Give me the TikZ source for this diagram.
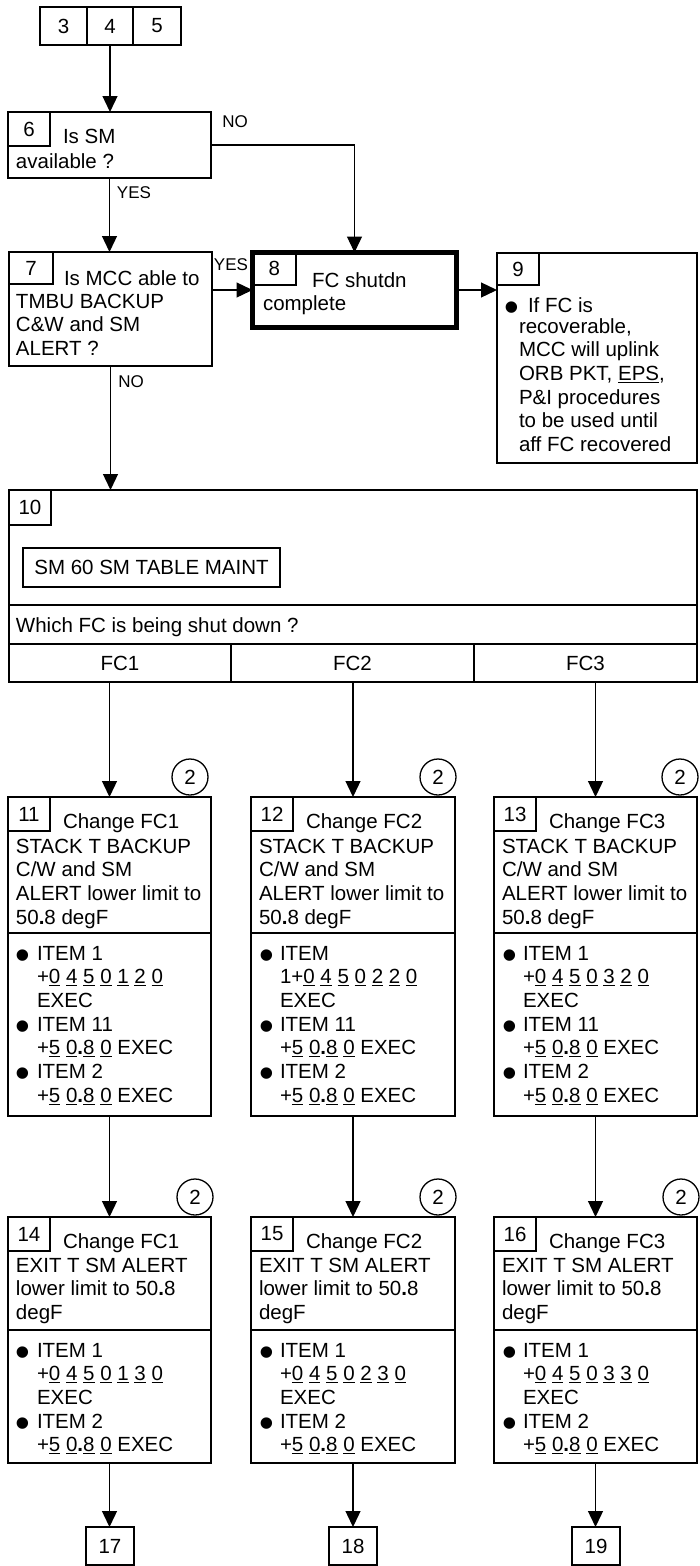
\documentclass[tikz,border=0pt]{standalone}
\usepackage{fontspec}
\setmainfont{Liberation Sans}
\usetikzlibrary{arrows.meta}
\newcommand\myu[1]{\underline{#1}}
\newcommand\dt{\textbf{.}}
\newcommand\bigbul{\smash{\raisebox{-9pt}{\fontsize{42}{42}\selectfont\textbullet}}}
\newcommand\bul{\makebox[21pt][l]{\bigbul}}
\newcommand\tl[1]{\begin{tabular}[t]{@{}l@{}}#1\end{tabular}}
\newcommand\tll[1]{\begin{tabular}[t]{@{}l@{}l@{}}#1\end{tabular}}
\newcommand\fiveo{+\myu{5} \myu{0}\dt\myu{8} \myu{0} EXEC}
\tikzset{
  box/.style={draw, line width=1.3pt, inner sep=0pt, outer sep=0pt, anchor=north west, font=\fontsize{20.5}{23.7}\selectfont},
  txt/.style={inner sep=0pt, outer sep=0pt, anchor=base west, font=\fontsize{20.5}{23.7}\selectfont},
  lbl/.style={inner sep=0pt, font=\fontsize{17}{20}\selectfont},
  circ/.style={draw, circle, line width=1.3pt, minimum size=36pt, inner sep=0pt, font=\fontsize{20.5}{23.7}\selectfont},
  arr/.style={line width=1.3pt, -{Triangle[width=15pt,length=16pt]}}
}
\begin{document}
\begin{tikzpicture}[x=1pt,y=-1pt]
\fill[white] (0,0) rectangle (699,1566);
\useasboundingbox (0,0) rectangle (699,1566);
% top boxes
\node[box, minimum width=47pt, minimum height=38pt] (b3) at (40,7) {3};
\node[box, minimum width=46pt, minimum height=38pt] (b4) at (87,7) {4};
\node[box, minimum width=48pt, minimum height=38pt] (b5) at (133,7) {5};
% box 6
\node[box, minimum width=203pt, minimum height=66pt] (b6) at (8,112) {};
\node[box, minimum width=42pt, minimum height=34pt] (tab6) at (8,112) {6};
\node[txt] (t6a) at (63,143) {Is SM};
\node[txt] (t6b) at (16,168) {available ?};
\node[lbl] (no6) at (235,122) {NO};
\node[lbl] (yes6) at (134,193) {YES};
% box 7
\node[box, minimum width=203pt, minimum height=114pt] (b7) at (9,252) {};
\node[box, minimum width=44pt, minimum height=32pt] (tab7) at (9,252) {7};
\node[txt] (t7a) at (64,285) {Is MCC able to};
\node[txt] (t7b) at (16,308) {\tl{TMBU BACKUP\\C\&W and SM\\ALERT ?}};
\node[lbl] (yes7) at (231,265) {YES};
\node[lbl] (no7) at (131,382) {NO};
% box 8
\node[box, line width=5pt, minimum width=204pt, minimum height=75pt] (b8) at (252.5,252.5) {};
\node[box, minimum width=43.5pt, minimum height=32.5pt] (tab8) at (252.5,252.5) {8};
\node[txt] (t8a) at (312,287) {FC shutdn};
\node[txt] (t8b) at (263,310) {complete};
% box 9
\node[box, minimum width=200pt, minimum height=210pt] (b9) at (497,253) {};
\node[box, minimum width=42pt, minimum height=32pt] (tab9) at (497,253) {9};
\node[txt] (bul9) at (504,312) {\bigbul};
\node[txt] (t9a) at (528,312) {If FC is};
\node[txt] (t9b) at (519,333) {\tl{recoverable,\\MCC will uplink\\ORB PKT, \underline{EPS},\\P\&I procedures\\to be used until\\aff FC recovered}};
% box 10
\node[box, minimum width=688pt, minimum height=115pt] (b10) at (9,490) {};
\node[box, minimum width=42pt, minimum height=35pt] (tab10) at (9,490) {10};
\node[box, minimum width=257pt, minimum height=39pt] (sm60) at (23,548) {SM 60 SM TABLE MAINT};
\node[box, minimum width=688pt, minimum height=39pt] (bq) at (9,605) {};
\node[txt] (tq) at (16,632) {Which FC is being shut down ?};
\node[box, minimum width=222pt, minimum height=38pt] (fc1) at (9,644) {FC1};
\node[box, minimum width=243pt, minimum height=38pt] (fc2) at (231,644) {FC2};
\node[box, minimum width=223pt, minimum height=38pt] (fc3) at (474,644) {FC3};
% circles row 1
\node[circ] (c11) at (190,777) {2};
\node[circ] (c12) at (438,777) {2};
\node[circ] (c13) at (680,777) {2};
% boxes 11-13
\node[box, minimum width=203pt, minimum height=136pt] (b11) at (8,797) {};
\node[box, minimum width=203pt, minimum height=183pt] (b11i) at (8,933) {};
\node[box, minimum width=42pt, minimum height=34pt] (tab11) at (8,797) {11};
\node[txt] (t11a) at (63,828) {Change FC1};
\node[txt] (t11b) at (16,853) {\tl{STACK T BACKUP\\C/W and SM\\ALERT lower limit to\\50\dt8 degF}};
\node[txt] (t11c) at (16,960) {\tll{\bul & ITEM 1\\ & +\myu{0} \myu{4} \myu{5} \myu{0} \myu{1} \myu{2} \myu{0}\\ & EXEC\\ \bul & ITEM 11\\ & \fiveo\\ \bul & ITEM 2\\ & \fiveo}};

\node[box, minimum width=204pt, minimum height=136pt] (b12) at (251,797) {};
\node[box, minimum width=204pt, minimum height=183pt] (b12i) at (251,933) {};
\node[box, minimum width=42pt, minimum height=34pt] (tab12) at (251,797) {12};
\node[txt] (t12a) at (306,828) {Change FC2};
\node[txt] (t12b) at (259,853) {\tl{STACK T BACKUP\\C/W and SM\\ALERT lower limit to\\50\dt8 degF}};
\node[txt] (t12c) at (259,960) {\tll{\bul & ITEM\\ & 1+\myu{0} \myu{4} \myu{5} \myu{0} \myu{2} \myu{2} \myu{0}\\ & EXEC\\ \bul & ITEM 11\\ & \fiveo\\ \bul & ITEM 2\\ & \fiveo}};

\node[box, minimum width=203pt, minimum height=136pt] (b13) at (494,797) {};
\node[box, minimum width=203pt, minimum height=183pt] (b13i) at (494,933) {};
\node[box, minimum width=42pt, minimum height=34pt] (tab13) at (494,797) {13};
\node[txt] (t13a) at (549,828) {Change FC3};
\node[txt] (t13b) at (502,853) {\tl{STACK T BACKUP\\C/W and SM\\ALERT lower limit to\\50\dt8 degF}};
\node[txt] (t13c) at (502,960) {\tll{\bul & ITEM 1\\ & +\myu{0} \myu{4} \myu{5} \myu{0} \myu{3} \myu{2} \myu{0}\\ & EXEC\\ \bul & ITEM 11\\ & \fiveo\\ \bul & ITEM 2\\ & \fiveo}};
% circles row 2
\node[circ] (c14) at (195,1197) {2};
\node[circ] (c15) at (438,1197) {2};
\node[circ] (c16) at (681,1197) {2};
% boxes 14-16
\node[box, minimum width=203pt, minimum height=113pt] (b14) at (8,1217) {};
\node[box, minimum width=203pt, minimum height=133pt] (b14i) at (8,1330) {};
\node[box, minimum width=42pt, minimum height=34pt] (tab14) at (8,1217) {14};
\node[txt] (t14a) at (63,1248) {Change FC1};
\node[txt] (t14b) at (16,1272) {\tl{EXIT T SM ALERT\\lower limit to 50\dt8\\degF}};
\node[txt] (t14c) at (16,1357) {\tll{\bul & ITEM 1\\ & +\myu{0} \myu{4} \myu{5} \myu{0} \myu{1} \myu{3} \myu{0}\\ & EXEC\\ \bul & ITEM 2\\ & \fiveo}};

\node[box, minimum width=204pt, minimum height=113pt] (b15) at (251,1217) {};
\node[box, minimum width=204pt, minimum height=133pt] (b15i) at (251,1330) {};
\node[box, minimum width=42pt, minimum height=34pt] (tab15) at (251,1217) {15};
\node[txt] (t15a) at (306,1248) {Change FC2};
\node[txt] (t15b) at (259,1272) {\tl{EXIT T SM ALERT\\lower limit to 50\dt8\\degF}};
\node[txt] (t15c) at (259,1357) {\tll{\bul & ITEM 1\\ & +\myu{0} \myu{4} \myu{5} \myu{0} \myu{2} \myu{3} \myu{0}\\ & EXEC\\ \bul & ITEM 2\\ & \fiveo}};

\node[box, minimum width=203pt, minimum height=113pt] (b16) at (494,1217) {};
\node[box, minimum width=203pt, minimum height=133pt] (b16i) at (494,1330) {};
\node[box, minimum width=42pt, minimum height=34pt] (tab16) at (494,1217) {16};
\node[txt] (t16a) at (549,1248) {Change FC3};
\node[txt] (t16b) at (502,1272) {\tl{EXIT T SM ALERT\\lower limit to 50\dt8\\degF}};
\node[txt] (t16c) at (502,1357) {\tll{\bul & ITEM 1\\ & +\myu{0} \myu{4} \myu{5} \myu{0} \myu{3} \myu{3} \myu{0}\\ & EXEC\\ \bul & ITEM 2\\ & \fiveo}};
% end boxes
\node[box, minimum width=48pt, minimum height=38pt] (b17) at (86,1527) {17};
\node[box, minimum width=48pt, minimum height=38pt] (b18) at (329,1527) {18};
\node[box, minimum width=48pt, minimum height=38pt] (b19) at (572,1527) {19};
% connectors
\draw[arr] (b4.south) -- (b4.south |- b6.north);
\draw[arr] (b6.south) -- (b6.south |- b7.north);
\draw[arr] (b6.east) -| (b8.north);
\draw[arr] (b7.east |- b8.west) -- (b8.west);
\draw[arr] (b8.east) -- (b8.east -| b9.west);
\draw[arr] (b7.south) -- (b7.south |- b10.north);
\draw[arr] (fc1.south -| b11.north) -- (b11.north);
\draw[arr] (fc2.south -| b12.north) -- (b12.north);
\draw[arr] (fc3.south -| b13.north) -- (b13.north);
\draw[arr] (b11i.south) -- (b14.north);
\draw[arr] (b12i.south) -- (b15.north);
\draw[arr] (b13i.south) -- (b16.north);
\draw[arr] (b14i.south) -- (b14i.south |- b17.north);
\draw[arr] (b15i.south) -- (b15i.south |- b18.north);
\draw[arr] (b16i.south) -- (b16i.south |- b19.north);
\end{tikzpicture}
\end{document}
